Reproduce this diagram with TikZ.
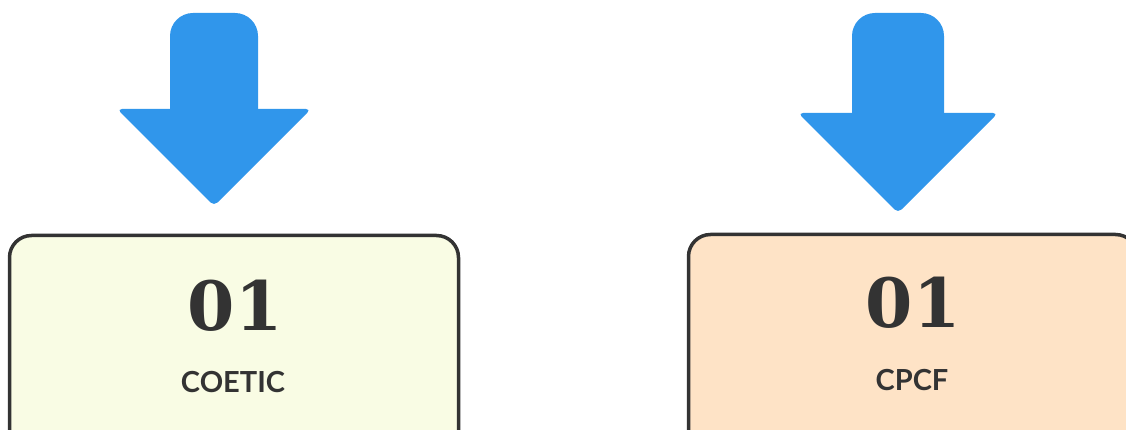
\documentclass[tikz,border=0pt]{standalone}
\usepackage{fontspec}
\setmainfont{DejaVu Serif}
\setsansfont{Lato}
\definecolor{arrowblue}{RGB}{48,150,235}
\definecolor{inkgrey}{RGB}{51,51,51}
\definecolor{limefill}{RGB}{249,252,228}
\definecolor{peachfill}{RGB}{254,227,198}
\tikzset{
	card/.style={draw=inkgrey,line width=3.5pt,rounded corners=22pt,minimum width=449pt,minimum height=220pt,inner sep=0pt},
	num/.style={text=inkgrey,inner sep=0pt,font=\fontsize{68}{68}\selectfont\bfseries},
	tag/.style={text=inkgrey,inner sep=0pt,font=\fontsize{29}{29}\selectfont\sffamily\bfseries},
	head/.style={fill=arrowblue,rounded corners=5pt}
}

\begin{document}
\begin{tikzpicture}[x=1pt,y=-1pt]
\useasboundingbox (0,0) rectangle (1126,430);
\clip (0,0) rectangle (1126,430);
% arrows: shaft, then head
\fill[arrowblue] (170,112) -- (170,36) arc[start angle=180,end angle=270,radius=23] -- (235,13) arc[start angle=270,end angle=360,radius=23] -- (258,112) -- cycle;
\path[head] (117,109) -- (311,109) -- (214,206) -- cycle;
\fill[arrowblue] (852,116) -- (852,36) arc[start angle=180,end angle=270,radius=23] -- (921,13) arc[start angle=270,end angle=360,radius=23] -- (944,116) -- cycle;
\path[head] (798,113) -- (998,113) -- (898,213) -- cycle;
% boxes
\node[card,fill=limefill] (coetic) at (234,345.5) {};
\node[card,fill=peachfill] (cpcf) at (913,344.5) {};
\node[num] (coeticnum) at (235,305.5) {01};
\node[tag] (coetictag) at (233,382.5) {COETIC};
\node[num] (cpcfnum) at (913,303) {01};
\node[tag] (cpcftag) at (912,380) {CPCF};
\end{tikzpicture}
\end{document}
